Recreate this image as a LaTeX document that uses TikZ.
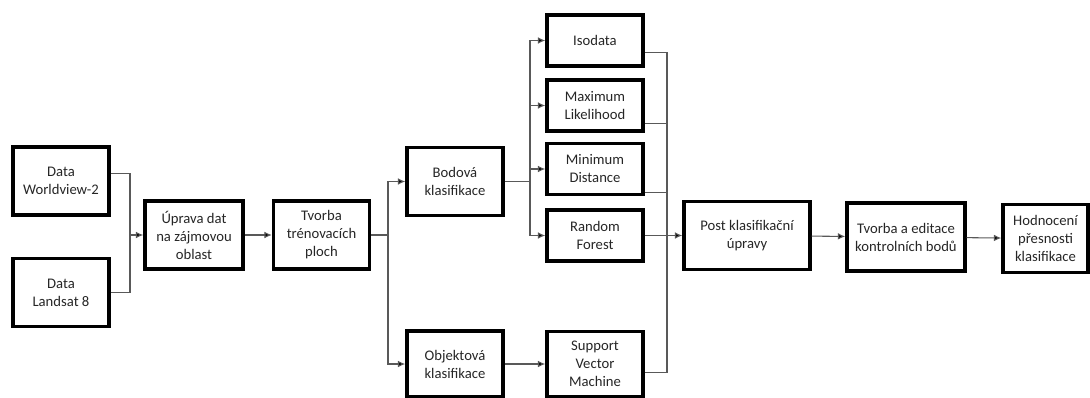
\documentclass[tikz,border=0pt]{standalone}
\usepackage{fontspec}
\setmainfont{Carlito}
\usepackage{tikz}
\usetikzlibrary{arrows.meta, positioning, calc}

\begin{document}
\begin{tikzpicture}[
    x=0.75pt, y=-0.75pt,
    box/.style={draw, line width=2.6pt, minimum width=72pt, minimum height=51pt, align=center, font=\fontsize{11}{13.5}\selectfont, text=black!85, inner sep=1pt},
    smallbox/.style={box, minimum height=38.25pt},
    conn/.style={draw=black!65, line width=0.8pt},
    arrow/.style={conn, -{Latex[length=5.5pt, width=5pt, fill=black]}}
]
\useasboundingbox (0,0) rectangle (1090,397);

% --- Input data ---
\node[box] (wv) at (61,181) {Data\\Worldview-2};
\node[box] (landsat) at (61,292.5) {Data\\Landsat 8};
\node[box, minimum width=73.5pt] (uprava) at (194,235) {Úprava dat\\na zájmovou\\oblast};
\node[box] (tvorba) at (321.5,235) {Tvorba\\trénovacích\\ploch};
\coordinate (j1) at (130,235);
\draw[conn] (wv.9) -| (j1);
\draw[conn] (landsat.east) -| (j1);
\draw[arrow] (j1) -- (uprava);
\draw[arrow] (uprava) -- (tvorba);

% --- Classification ---
\node[box] (bodova) at (455,181.5) {Bodová\\klasifikace};
\node[box, minimum height=49.5pt] (objekt) at (455,364) {Objektová\\klasifikace};
\coordinate (j2) at (388,235);
\draw[conn] (tvorba) -- (j2);
\draw[arrow] (j2) |- (bodova);
\draw[arrow] (j2) |- (objekt);

\node[smallbox] (iso) at (595,40.5) {Isodata};
\node[smallbox] (ml) at (595,105.5) {Maximum\\Likelihood};
\node[smallbox] (md) at (595,169) {Minimum\\Distance};
\node[smallbox] (rf) at (595,235.5) {Random\\Forest};
\node[box, minimum height=48.75pt] (svm) at (595,364) {Support\\Vector\\Machine};
\coordinate (j3) at (530,181.5);
\draw[conn] (bodova) -- (j3);
\foreach \m in {iso, ml, md, rf}
    \draw[arrow] (j3) |- (\m);
\draw[arrow] (objekt) -- (svm);

% --- Post processing ---
\node[box, minimum width=94.5pt] (post) at (747,235.5) {Post klasifikační\\úpravy};
\node[box, minimum width=88.5pt] (kontrol) at (906,237) {Tvorba a editace\\kontrolních bodů};
\node[box, minimum width=63.75pt] (hodnoc) at (1045.5,238.5) {Hodnocení\\přesnosti\\klasifikace};
\coordinate (j4) at (667,235.5);
\draw[conn] (iso.-14) -| (j4);
\draw[conn] (ml.-20) -| (j4);
\draw[conn] (md.-25) -| (j4);
\draw[conn] (svm.-10) -| (j4);
\draw[arrow] (rf) -- (post);
\draw[arrow] (post) -- (kontrol);
\draw[arrow] (kontrol) -- (hodnoc);

\end{tikzpicture}
\end{document}
